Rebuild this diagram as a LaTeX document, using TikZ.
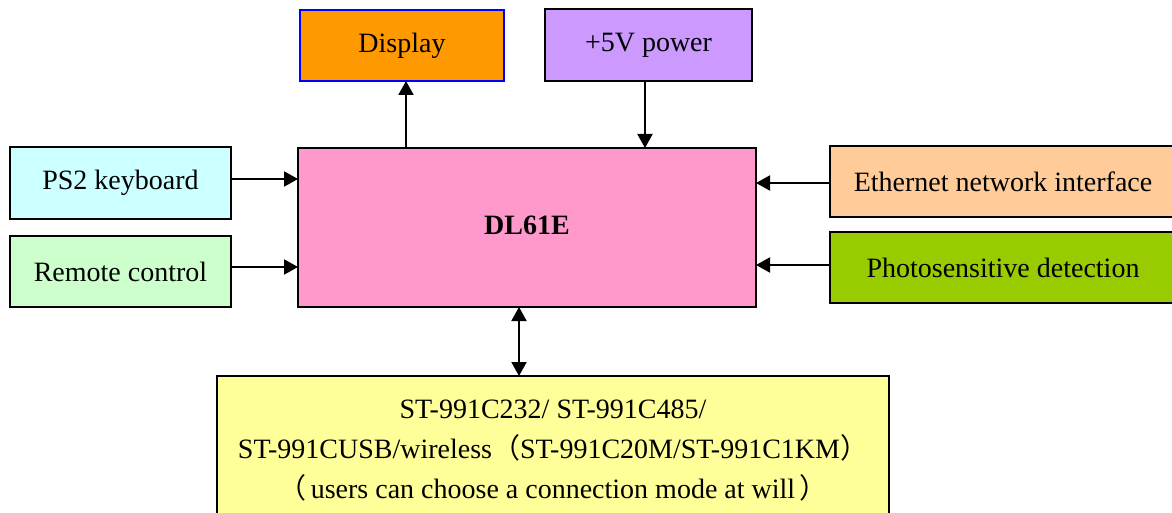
\documentclass[tikz,border=0pt]{standalone}
\usepackage{fontspec}
\setmainfont{Liberation Serif}
\newfontfamily\cjk{Noto Sans CJK SC}
\usetikzlibrary{arrows.meta,calc}
\definecolor{cDisp}{HTML}{FF9900}
\definecolor{cPow}{HTML}{CC99FF}
\definecolor{cDL}{HTML}{FF99CC}
\definecolor{cPS}{HTML}{CCFFFF}
\definecolor{cRem}{HTML}{CCFFCC}
\definecolor{cEth}{HTML}{FFCC99}
\definecolor{cPho}{HTML}{99CC00}
\definecolor{cBot}{HTML}{FFFF99}
\tikzset{
  bx/.style 2 args={draw=black, line width=1pt, inner sep=0pt, outer sep=0pt,
    minimum width=#1*0.5pt, minimum height=#2*0.5pt, align=center,
    font=\fontsize{14pt}{20pt}\selectfont},
  arr/.style={line width=1pt, -{Triangle[length=7pt,width=7.5pt]}},
  arrtwo/.style={line width=1pt, {Triangle[length=7pt,width=7.5pt]}-{Triangle[length=7pt,width=7.5pt]}}
}
\begin{document}
\begin{tikzpicture}[x=0.5pt,y=-0.5pt]
\useasboundingbox (0,0) rectangle (1172,513);
\node[bx={204}{71}, fill=cDisp, draw=blue] (disp) at (402,45.5) {Display};
\node[bx={207}{72}, fill=cPow] (pw) at (648.5,45) {+5V power};
\node[bx={458}{159}, fill=cDL] (dl) at (527,227.5) {\raisebox{2.5pt}{\textbf{DL61E}}};
\node[bx={221}{72}, fill=cPS] (ps2) at (120.5,183) {PS2 keyboard};
\node[bx={221}{71}, fill=cRem] (rem) at (120.5,271.5) {Remote control};
\node[bx={346}{71}, fill=cEth] (eth) at (1003,181.5) {Ethernet network interface};
\node[bx={346}{71}, fill=cPho] (pho) at (1003,267.5) {Photosensitive detection};
\node[bx={672}{150}, fill=cBot] (bot) at (553,451) {ST-991C232/ ST-991C485/\\ST-991CUSB/wireless{\cjk （}ST-991C20M/ST-991C1KM{\cjk ）}\\{\cjk （}\,users can choose a connection mode at will\,{\cjk ）}};
\draw[arr] ([yshift=2pt]ps2.east) -- ([yshift=2pt]ps2.east -| dl.west);
\draw[arr] ([yshift=2.25pt]rem.east) -- ([yshift=2.25pt]rem.east -| dl.west);
\draw[arr] ([yshift=-0.75pt]eth.west) -- ([yshift=-0.75pt]eth.west -| dl.east);
\draw[arr] ([yshift=1.25pt]pho.west) -- ([yshift=1.25pt]pho.west -| dl.east);
\draw[arr] ([xshift=2pt]disp.south |- dl.north) -- ([xshift=2pt]disp.south);
\draw[arr] ([xshift=-1.75pt]pw.south) -- ([xshift=-1.75pt]pw.south |- dl.north);
\draw[arrtwo] ([xshift=-4pt]dl.south) -- ([xshift=-4pt]dl.south |- bot.north);
\end{tikzpicture}
\end{document}
